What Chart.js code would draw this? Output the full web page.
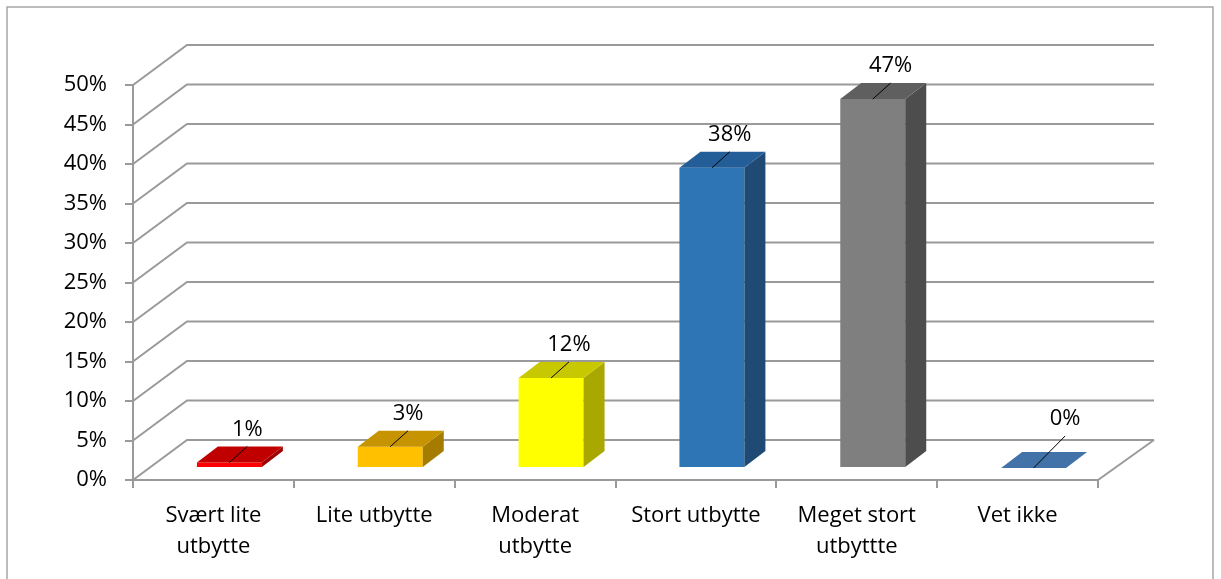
<!DOCTYPE html>
<html>
<head>
<meta charset="utf-8">
<script src="https://cdn.jsdelivr.net/npm/chart.js@4.4.1/dist/chart.umd.min.js"></script>
<style>
  html, body { margin: 0; padding: 0; background: #ffffff; }
  #wrap { width: 1221px; height: 579px; }
</style>
</head>
<body>
<div id="wrap"><canvas id="c" width="1221" height="579"></canvas></div>
<script>
// ---- data ----
const categories = [
  ["Svært lite", "utbytte"],
  "Lite utbytte",
  ["Moderat", "utbytte"],
  "Stort utbytte",
  ["Meget stort", "utbyttte"],
  "Vet ikke"
];
const values = [0.7, 2.7, 11.4, 38.0, 46.7, 0.0];
const valueLabels = ["1%", "3%", "12%", "38%", "47%", "0%"];
const yTicks = { min: 0, max: 50, step: 5 };

// ---- styles ----
const frontColors = ["#FF0000", "#FFC000", "#FFFF00", "#2E75B6", "#7F7F7F", "#4F81BD"];
const topColors   = ["#C00000", "#C59400", "#C8C800", "#245E98", "#5F5F5F", "#4272A8"];
const sideColors  = ["#A00000", "#A67C00", "#A8A800", "#1F4A73", "#4D4D4D", "#385F8C"];

const FONT = "'Open Sans', 'Noto Sans', sans-serif";
const FSIZE = 22;
const GRID = "#9a9a9a";
const WALL_DX = 54, WALL_DY = -40;     // back wall offset
const BAR_DX = 16, BAR_DY = -12;       // bar plane offset
const DEP_DX = 21, DEP_DY = -16;       // bar depth

const frame = {
  id: "frame",
  beforeDraw(chart) {
    const ctx = chart.ctx;
    ctx.save();
    ctx.strokeStyle = "#a6a6a6";
    ctx.lineWidth = 1.5;
    ctx.strokeRect(7, 7, 1206, 640);
    ctx.restore();
  }
};

const walls = {
  id: "walls",
  beforeDatasetsDraw(chart) {
    const ctx = chart.ctx, y = chart.scales.y, a = chart.chartArea;
    ctx.save();
    ctx.strokeStyle = GRID;
    ctx.lineWidth = 2;
    ctx.lineJoin = "miter";
    y.ticks.forEach(t => {
      const py = y.getPixelForValue(t.value);
      ctx.beginPath();
      ctx.moveTo(a.left, py);
      ctx.lineTo(a.left + WALL_DX, py + WALL_DY);
      ctx.lineTo(a.right + WALL_DX + 2, py + WALL_DY);
      ctx.stroke();
    });
    // floor right edge
    const py0 = y.getPixelForValue(0);
    ctx.beginPath();
    ctx.moveTo(a.right, py0);
    ctx.lineTo(a.right + WALL_DX + 2, py0 + WALL_DY);
    ctx.stroke();
    ctx.restore();
    // shift bar plane
    ctx.save();
    ctx.translate(BAR_DX, BAR_DY);
  },
  afterDatasetsDraw(chart) {
    const ctx = chart.ctx;
    const meta = chart.getDatasetMeta(0);
    meta.data.forEach((bar, i) => {
      const p = bar.getProps(["x", "y", "base", "width"], true);
      const l = p.x - p.width / 2, r = p.x + p.width / 2;
      const top = p.y, base = p.base;
      // side face
      ctx.fillStyle = sideColors[i];
      ctx.beginPath();
      ctx.moveTo(r, base);
      ctx.lineTo(r + DEP_DX, base + DEP_DY);
      ctx.lineTo(r + DEP_DX, top + DEP_DY);
      ctx.lineTo(r, top);
      ctx.closePath();
      ctx.fill();
      // top face
      ctx.fillStyle = topColors[i];
      ctx.beginPath();
      ctx.moveTo(l, top);
      ctx.lineTo(l + DEP_DX, top + DEP_DY);
      ctx.lineTo(r + DEP_DX, top + DEP_DY);
      ctx.lineTo(r, top);
      ctx.closePath();
      ctx.fill();
      // leader line + label
      const zero = values[i] === 0;
      const lx = p.x + DEP_DX * (zero ? 1.5 : 0.85), ly = top + DEP_DY * (zero ? 2 : 1);
      ctx.strokeStyle = "#000";
      ctx.lineWidth = 1;
      ctx.beginPath();
      ctx.moveTo(p.x, top);
      ctx.lineTo(lx, ly);
      ctx.stroke();
      ctx.fillStyle = "#000";
      ctx.font = FSIZE + "px " + FONT;
      ctx.textAlign = "center";
      ctx.textBaseline = "middle";
      ctx.fillText(valueLabels[i], lx, ly - 17);
    });
    ctx.restore();
  }
};

new Chart(document.getElementById("c"), {
  type: "bar",
  data: {
    labels: categories,
    datasets: [{
      data: values,
      backgroundColor: frontColors,
      borderWidth: 0,
      categoryPercentage: 1.0,
      barPercentage: 0.404,
      clip: false
    }]
  },
  options: {
    responsive: false,
    animation: false,
    devicePixelRatio: 1,
    layout: { padding: { left: 0, top: 85, right: 123, bottom: 0 } },
    plugins: { legend: { display: false }, tooltip: { enabled: false } },
    scales: {
      x: {
        afterFit(s) { s.height = 99; },
        grid: { drawOnChartArea: false, drawTicks: true, tickLength: 8, color: GRID, lineWidth: 2, offset: true },
        border: { display: true, color: GRID, width: 2 },
        ticks: {
          color: "#000", font: { family: FONT, size: FSIZE, lineHeight: 31 / FSIZE },
          maxRotation: 0, autoSkip: false, padding: 12
        }
      },
      y: {
        min: yTicks.min, max: yTicks.max,
        afterFit(s) { s.width = 133; },
        grid: { drawOnChartArea: false, drawTicks: true, tickLength: 8, color: GRID, lineWidth: 2 },
        border: { display: true, color: GRID, width: 2 },
        ticks: {
          stepSize: yTicks.step, color: "#000", padding: 18,
          font: { family: FONT, size: FSIZE },
          callback: v => v + "%"
        }
      }
    }
  },
  plugins: [frame, walls]
});
</script>
</body>
</html>
